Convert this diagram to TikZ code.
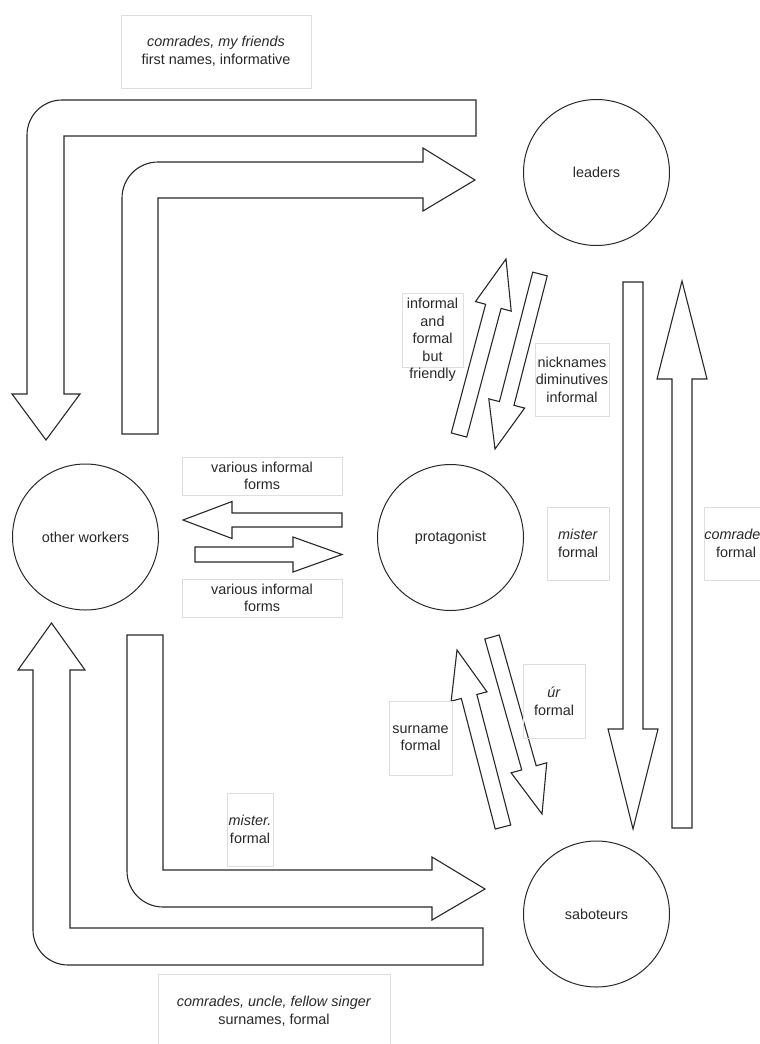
\documentclass[tikz,border=0pt]{standalone}
\usepackage{fontspec}
\setmainfont{Liberation Sans}
\usetikzlibrary{calc}
\definecolor{inkgray}{RGB}{40,40,40}
\definecolor{boxgray}{RGB}{222,222,222}
\tikzset{
  actor/.style={circle, draw=inkgray, line width=1pt, minimum size=146pt,
    inner sep=0pt, text=inkgray},
  lbl/.style={draw=boxgray, line width=0.8pt, text=inkgray, align=center,
    inner sep=0pt},
  arrowbody/.style={draw=inkgray, line width=1.1pt, fill=white, line join=miter}
}
% straight block arrow: tail, tip, half shaft, half head, head length
\newcommand\blockarrow[5]{%
  \path let \p1=($(#2)-(#1)$) in
    \pgfextra{\pgfmathsetmacro\tmpang{atan2(\y1,\x1)}\xdef\baang{\tmpang}%
      \pgfmathsetmacro\tmplen{veclen(\x1,\y1)}\xdef\balen{\tmplen}};
  \draw[arrowbody, shift={(#1)}, rotate=\baang]
    (0pt,-#3pt) -- ({\balen pt-#5pt},-#3pt) -- ({\balen pt-#5pt},-#4pt)
    -- (\balen pt,0pt) -- ({\balen pt-#5pt},#4pt) -- ({\balen pt-#5pt},#3pt)
    -- (0pt,#3pt) -- cycle;
}

\begin{document}
\begin{tikzpicture}[x=1pt, y=-1pt, font=\fontsize{14.4}{17.6}\selectfont]
  \useasboundingbox (0,0) rectangle (760,1044);

  % people
  \node[actor] (lead) at (596.5,172.5) {leaders};
  \node[actor] (prot) at (450.5,537.5) {protagonist};
  \node[actor] (work) at (85.5,537) {other workers};
  \node[actor] (sabo) at (596.5,914) {saboteurs};

  % bent arrows round the left side
  \draw[arrowbody] (476,100) -- (62,100) arc[start angle=90, end angle=180, radius=35pt]
    -- (27,394) -- (12,394) -- (46,440) -- (80,394) -- (64,394) -- (64,136)
    -- (476,136) -- cycle;
  \draw[arrowbody] (122,434) -- (122,198) arc[start angle=180, end angle=90, radius=36pt]
    -- (423,162) -- (423,148) -- (475,180) -- (423,211) -- (423,198)
    -- (158,198) -- (158,434) -- cycle;
  \draw[arrowbody] (51.5,623) -- (85,670) -- (70,670) -- (70,928) -- (483,928)
    -- (483,965) -- (68,965) arc[start angle=270, end angle=180, radius=35pt]
    -- (33,670) -- (18,670) -- cycle;
  \draw[arrowbody] (127,635) -- (163,635) -- (163,870) -- (432,870) -- (432,857)
    -- (485,889) -- (432,920) -- (432,907) -- (163,907)
    arc[start angle=270, end angle=180, radius=36pt] -- cycle;

  % ends of the straight arrows
  \coordinate (pw-tail) at (342,520);   \coordinate (pw-tip) at (183,520);
  \coordinate (wp-tail) at (195,554.5); \coordinate (wp-tip) at (342,554.5);
  \coordinate (ls-tail) at (633,282);   \coordinate (ls-tip) at (633,829);
  \coordinate (sl-tail) at (682,828);   \coordinate (sl-tip) at (682,281);
  \coordinate (pl-tail) at (459,435);   \coordinate (pl-tip) at (506,259);
  \coordinate (lp-tail) at (540,274);   \coordinate (lp-tip) at (495,449);
  \coordinate (sp-tail) at (503,827);   \coordinate (sp-tip) at (457,650);
  \coordinate (ps-tail) at (492,637);   \coordinate (ps-tip) at (542,814);

  \blockarrow{pw-tail}{pw-tip}{7}{18.5}{49}
  \blockarrow{wp-tail}{wp-tip}{7.5}{17.5}{49}
  \blockarrow{ls-tail}{ls-tip}{10}{25}{100}
  \blockarrow{sl-tail}{sl-tip}{10}{25}{98}
  \blockarrow{pl-tail}{pl-tip}{8}{18.5}{49}
  \blockarrow{lp-tail}{lp-tip}{7.5}{18.5}{47}
  \blockarrow{sp-tail}{sp-tip}{8}{18.5}{48}
  \blockarrow{ps-tail}{ps-tip}{7.5}{18.5}{48}

  % labels
  \node[lbl, minimum width=190, minimum height=73] (l-top) at (216,51.5)
    {\textit{comrades, my friends}\\first names, informative};
  \node[lbl, minimum width=232, minimum height=74] (l-bot) at (274,1011)
    {\textit{comrades, uncle, fellow singer}\\surnames, formal};
  \node[lbl, minimum width=160, minimum height=38] (l-pw) at (262,476)
    {various informal\\forms};
  \node[lbl, minimum width=160, minimum height=38] (l-wp) at (262,598)
    {various informal\\forms};
  \node[lbl, minimum width=61, minimum height=74] (l-pl) at (432.5,330) {};
  \node[text=inkgray, align=center] (l-pl-txt) at (432.5,340)
    {informal\\and\\formal\\but\\friendly};
  \node[lbl, minimum width=74, minimum height=73] (l-lp) at (572,379.5)
    {nicknames\\diminutives\\informal};
  \node[lbl, minimum width=62, minimum height=73] (l-ls) at (578,543.5)
    {\textit{mister}\\formal};
  \node[lbl, minimum width=62, minimum height=73] (l-sl) at (736,543.5)
    {\textit{comrades}\\formal};
  \node[lbl, minimum width=62, minimum height=74] (l-ps) at (554,701)
    {\textit{úr}\\formal};
  \node[lbl, minimum width=63, minimum height=74] (l-sp) at (420.5,738)
    {surname\\formal};
  \node[lbl, minimum width=46, minimum height=73] (l-ws) at (250,829.5)
    {\textit{mister.}\\formal};
\end{tikzpicture}
\end{document}
